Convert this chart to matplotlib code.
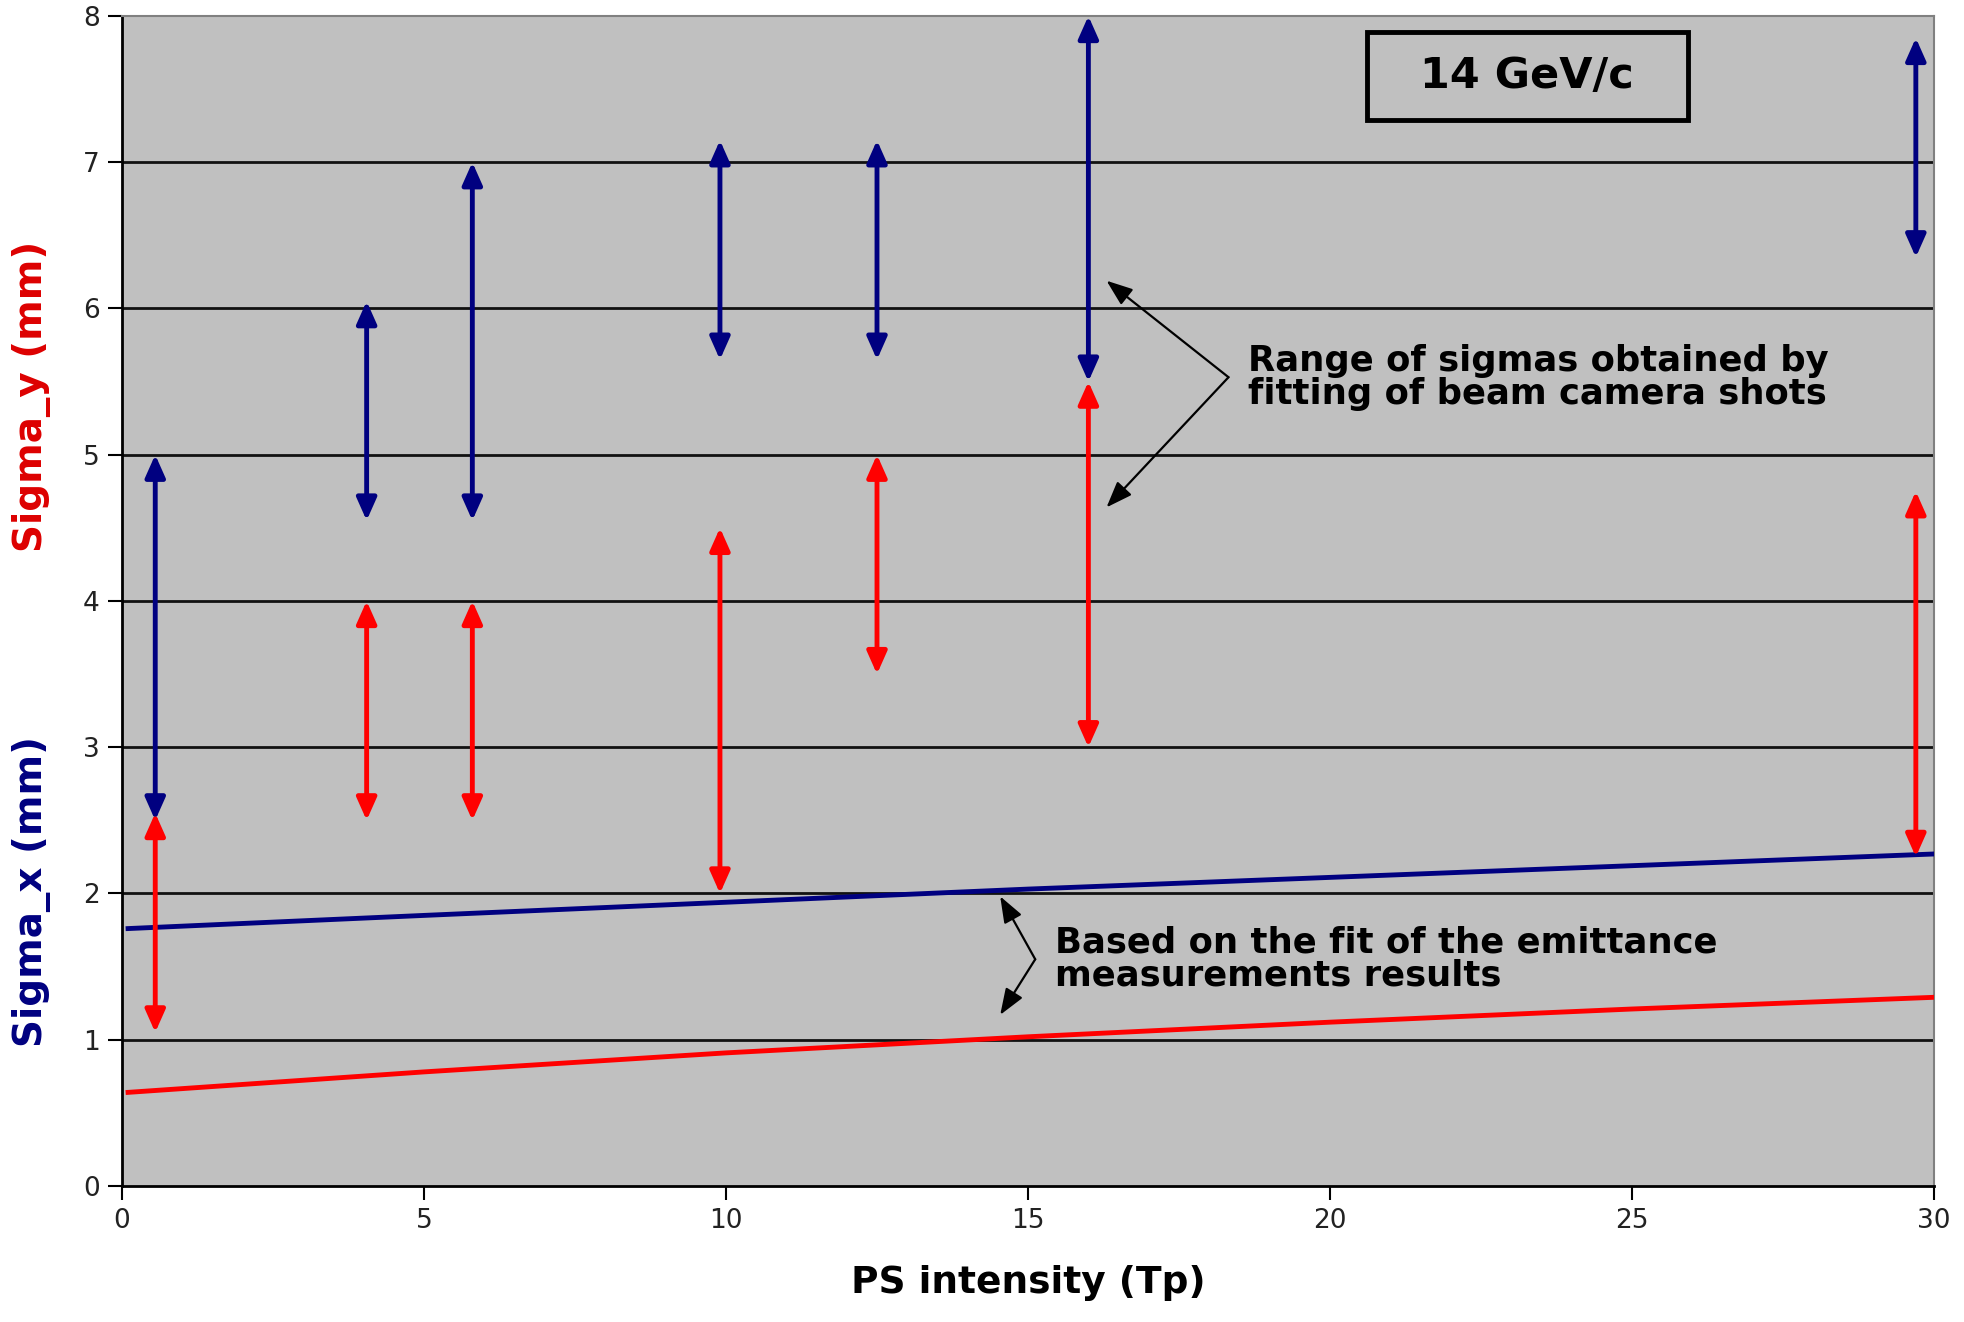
import numpy as np
import matplotlib
matplotlib.use("Agg")
import matplotlib.pyplot as plt
from matplotlib.patches import Rectangle

# shot positions (PS intensity, Tp) and ranges of fitted sigmas
intensity = [0.55, 4.05, 5.8, 9.9, 12.5, 16.0, 29.7]
sy_low = [2.5, 4.55, 4.55, 5.65, 5.65, 5.5, 6.35]
sy_high = [5.0, 6.05, 7.0, 7.15, 7.15, 8.0, 7.85]
sx_low = [1.05, 2.5, 2.5, 2.0, 3.5, 3.0, 2.25]
sx_high = [2.55, 4.0, 4.0, 4.5, 5.0, 5.5, 4.75]

# emittance fit curves
fit_x = [0.1, 5, 10, 15, 20, 25, 30]
fit_blue = [1.76, 1.85, 1.94, 2.03, 2.11, 2.19, 2.27]
fit_red = [0.64, 0.78, 0.91, 1.02, 1.12, 1.21, 1.29]

navy = "#000080"
red = "#FF0000"
bold = dict(family="DejaVu Sans", weight="bold")

fig = plt.figure(figsize=(19.65, 13.22), dpi=100)
ax = fig.add_axes([0.0621, 0.1029, 0.9221, 0.885])
ax.set_facecolor("#C0C0C0")
ax.set_xlim(0, 30)
ax.set_ylim(0, 8)

for y in range(1, 8):
    ax.axhline(y, color="#111111", lw=2, zorder=1)

ax.plot(fit_x, fit_blue, color=navy, lw=3.5, zorder=3)
ax.plot(fit_x, fit_red, color=red, lw=3.5, zorder=3)

def range_arrow(x, lo, hi, c):
    ax.annotate("", xy=(x, hi), xytext=(x, lo),
                arrowprops=dict(arrowstyle="<|-|>,head_length=0.9,head_width=0.4",
                                color=c, lw=3.5, mutation_scale=15,
                                shrinkA=0, shrinkB=0), zorder=4)

for x, lo, hi in zip(intensity, sy_low, sy_high):
    range_arrow(x, lo, hi, navy)
for x, lo, hi in zip(intensity, sx_low, sx_high):
    range_arrow(x, lo, hi, red)

# annotations
note = dict(arrowstyle="-|>,head_length=0.8,head_width=0.3", color="black",
            lw=1.6, mutation_scale=20, shrinkA=0, shrinkB=0)
ax.annotate("", xy=(16.3, 6.19), xytext=(18.32, 5.53), arrowprops=note)
ax.annotate("", xy=(16.3, 4.64), xytext=(18.32, 5.53), arrowprops=note)
ax.text(18.65, 5.53, "Range of sigmas obtained by\nfitting of beam camera shots",
        fontsize=25.5, va="center", ha="left", linespacing=0.95, **bold)

ax.annotate("", xy=(14.54, 1.98), xytext=(15.12, 1.55), arrowprops=note)
ax.annotate("", xy=(14.54, 1.17), xytext=(15.12, 1.55), arrowprops=note)
ax.text(15.45, 1.55, "Based on the fit of the emittance\nmeasurements results",
        fontsize=25.5, va="center", ha="left", linespacing=0.95, **bold)

ax.add_patch(Rectangle((0.687, 0.911), 0.177, 0.075, transform=ax.transAxes,
                       fc="#C0C0C0", ec="black", lw=3.5, zorder=5))
ax.text(0.7755, 0.949, "14 GeV/c", transform=ax.transAxes, fontsize=31,
        ha="center", va="center", zorder=6, **bold)

ax.set_xticks(range(0, 31, 5))
ax.set_yticks(range(0, 9))
ax.tick_params(direction="out", length=10, width=1.5, labelsize=19,
               labelcolor="#222222", pad=6)
for s in ["top", "right"]:
    ax.spines[s].set_color("#808080")
    ax.spines[s].set_linewidth(1.5)
for s in ["left", "bottom"]:
    ax.spines[s].set_linewidth(2)

ax.set_xlabel("PS intensity (Tp)", fontsize=27, labelpad=22, **bold)
fig.text(0.016, 0.70, "Sigma_y (mm)", color="#DD0000", rotation=90,
         fontsize=28, ha="center", va="center", **bold)
fig.text(0.016, 0.326, "Sigma_x (mm)", color=navy, rotation=90,
         fontsize=28, ha="center", va="center", **bold)

fig.savefig("out.png", dpi=100, facecolor="white")
